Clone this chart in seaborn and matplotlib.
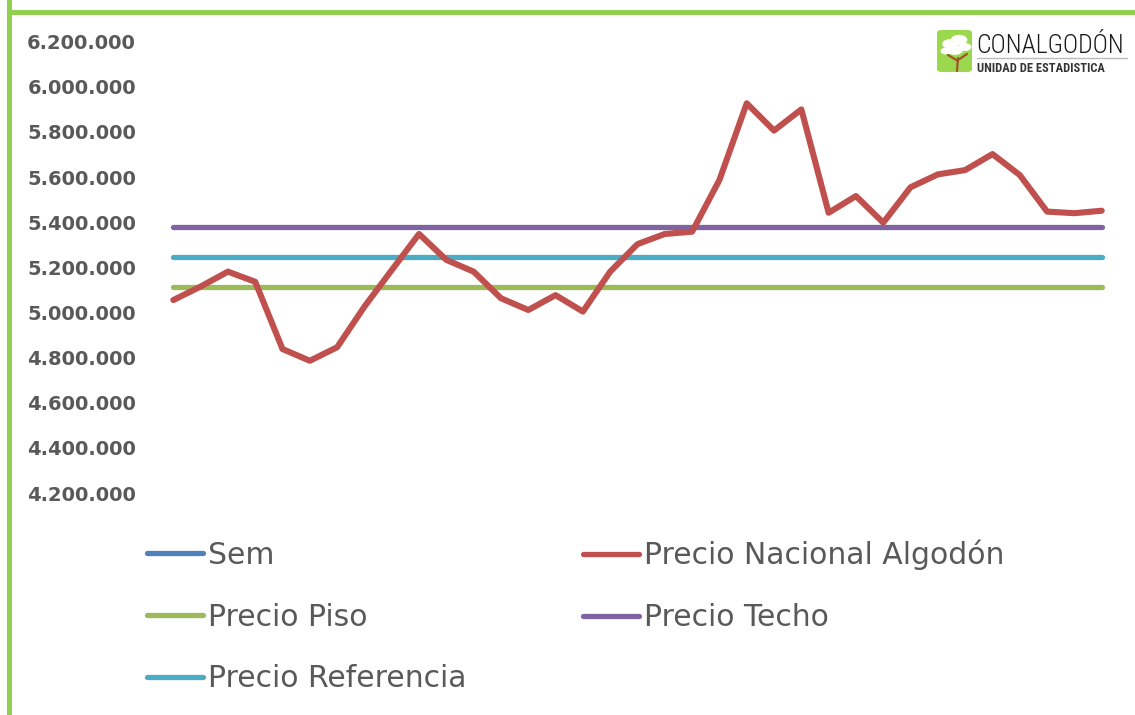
import matplotlib
matplotlib.use("Agg")
import matplotlib.pyplot as plt
import seaborn as sns
import pandas as pd
from matplotlib.lines import Line2D
from matplotlib.patches import Rectangle, FancyBboxPatch, Circle
from matplotlib.ticker import FuncFormatter
from matplotlib import font_manager as fm

# ---------------- data ----------------
sem = list(range(1, 36))
precio_nacional = [5055000, 5115000, 5181000, 5136000, 4838000, 4786000, 4846000,
                   5026000, 5188000, 5348000, 5233000, 5181000, 5063000, 5011000,
                   5077000, 5004000, 5181000, 5303000, 5348000, 5358000, 5587000,
                   5927000, 5806000, 5900000, 5442000, 5516000, 5398000, 5555000,
                   5612000, 5631000, 5702000, 5609000, 5447000, 5440000, 5451000]
precio_piso = [5114000] * len(sem)
precio_techo = [5377000] * len(sem)
precio_referencia = [5247000] * len(sem)
y_ticks = [4200000, 4400000, 4600000, 4800000, 5000000, 5200000,
           5400000, 5600000, 5800000, 6000000, 6200000]

colors = {"Sem": "#4F81BD", "Precio Nacional Algodón": "#C0504D",
          "Precio Piso": "#9BBB59", "Precio Techo": "#8064A2",
          "Precio Referencia": "#4BACC6"}

df = pd.DataFrame({"Sem": sem,
                   "Precio Nacional Algodón": precio_nacional,
                   "Precio Piso": precio_piso,
                   "Precio Techo": precio_techo,
                   "Precio Referencia": precio_referencia})

# ---------------- figure ----------------
sns.set_theme(style="white")
plt.rcParams["font.family"] = ["DejaVu Sans"]

W, H = 1135, 715
fig = plt.figure(figsize=(W / 100, H / 100), dpi=100)
fig.patch.set_facecolor("white")

def fx(px):
    return px / W

def fy(py):
    return 1 - py / H

ax_left, ax_right = 145, 1130
y_top_px, y_bot_px = 41.7, 493.0
ax = fig.add_axes([fx(ax_left), fy(y_bot_px), (ax_right - ax_left) / W,
                   (y_bot_px - y_top_px) / H])
ax.set_facecolor("none")

x0_px, x1_px = 173.3, 1101.7
ppu = (x1_px - x0_px) / (sem[-1] - sem[0])
ax.set_xlim(sem[0] - (x0_px - ax_left) / ppu, sem[-1] + (ax_right - x1_px) / ppu)
ax.set_ylim(y_ticks[0], y_ticks[-1])

# Sem series (values far below the visible range, as in the original)
sns.lineplot(data=df, x="Sem", y="Sem", ax=ax, color=colors["Sem"],
             linewidth=3.8, legend=False)
for name, lw in [("Precio Piso", 3.8), ("Precio Referencia", 3.8),
                 ("Precio Techo", 3.8), ("Precio Nacional Algodón", 4.4)]:
    sns.lineplot(data=df, x="Sem", y=name, ax=ax, color=colors[name],
                 linewidth=lw, legend=False, solid_capstyle="round",
                 solid_joinstyle="round", clip_on=False)

ax.set_xlabel("")
ax.set_ylabel("")
ax.set_xticks([])
ax.set_yticks(y_ticks)
ax.yaxis.set_major_formatter(FuncFormatter(lambda v, p: f"{v:,.0f}".replace(",", ".")))
ax.tick_params(axis="y", length=0, pad=6.5, labelsize=14, labelcolor="#595959")
for lab in ax.get_yticklabels():
    lab.set_fontweight("bold")
for s in ax.spines.values():
    s.set_visible(False)
ax.grid(False)

# ---------------- legend ----------------
leg_font = {"family": ["DejaVu Sans"], "size": 21.5}

def handle(name):
    return Line2D([], [], color=colors[name], linewidth=3.8, solid_capstyle="round")

col1 = ["Sem", "Precio Piso", "Precio Referencia"]
col2 = ["Precio Nacional Algodón", "Precio Techo"]
for names, xpx, ycen in [(col1, 147, 617), (col2, 583, 586)]:
    lg = fig.legend([handle(n) for n in names], names, loc="center left",
                    bbox_to_anchor=(fx(xpx), fy(ycen)), frameon=False,
                    borderpad=0, borderaxespad=0, handlelength=1.88,
                    handletextpad=0.16, labelspacing=1.10, prop=leg_font)
    for t in lg.get_texts():
        t.set_color("#595959")

# ---------------- border ----------------
green = "#92D050"
fig.patches.append(Rectangle((fx(7), fy(715)), fx(5), 715 / H, transform=fig.transFigure,
                             facecolor=green, edgecolor="none"))
fig.patches.append(Rectangle((fx(7), fy(14.5)), 1 - fx(7), 4.5 / H, transform=fig.transFigure,
                             facecolor=green, edgecolor="none"))

# ---------------- logo ----------------
fig.patches.append(FancyBboxPatch((fx(937), fy(72)), fx(35), 42 / H,
                                  boxstyle="round,pad=0,rounding_size=0.004",
                                  transform=fig.transFigure, facecolor="#9CD84E",
                                  edgecolor="none"))
for cx, cy, r in [(950, 44, 8), (959, 40, 8.5), (965, 47, 6.5), (955, 50, 8), (946, 51, 5.5)]:
    fig.patches.append(Circle((fx(cx), fy(cy)), r / W * 0.98, transform=fig.transFigure,
                              facecolor="white", edgecolor="none"))
brown = "#A0522D"
for xs, ys in [([957, 958], [71, 58]), ([958, 948], [61, 55]), ([958, 967], [60, 54])]:
    fig.add_artist(Line2D([fx(v) for v in xs], [fy(v) for v in ys], color=brown,
                          linewidth=1.6, transform=fig.transFigure))

names_avail = {f.name for f in fm.fontManager.ttflist}
if "Liberation Sans Narrow" in names_avail:
    logo_fam, logo_size, sub_size, logo_stretch = "Liberation Sans Narrow", 18, 9.0, "normal"
elif "Roboto Condensed" in names_avail:
    logo_fam, logo_size, sub_size, logo_stretch = "Roboto Condensed", 18.5, 9.0, "normal"
else:
    logo_fam, logo_size, sub_size, logo_stretch = "DejaVu Sans", 15.5, 7.6, "condensed"
fig.text(fx(976), fy(53), "CONALGODÓN", family=logo_fam, fontsize=logo_size,
         fontstretch=logo_stretch, fontweight="light", color="#1a1a1a",
         ha="left", va="baseline")
fig.add_artist(Line2D([fx(977), fx(1127)], [fy(58), fy(58)], color="#BBBBBB",
                      linewidth=1.0, transform=fig.transFigure))
fig.text(fx(977), fy(72.5), "UNIDAD DE ESTADISTICA", family=logo_fam, fontsize=sub_size,
         fontstretch=logo_stretch, fontweight="bold", color="#333333",
         ha="left", va="baseline")

fig.savefig("out.png", dpi=100, facecolor="white")
